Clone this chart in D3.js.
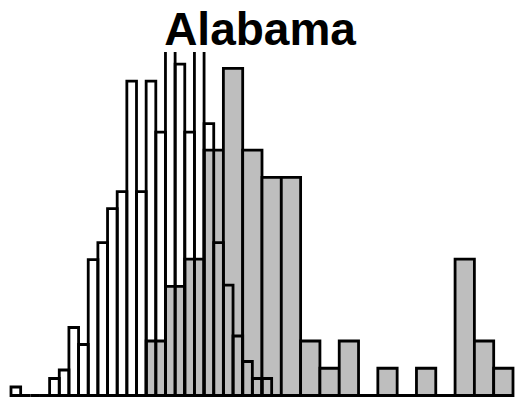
<!DOCTYPE html>
<html>
<head>
<meta charset="utf-8">
<script src="https://cdn.jsdelivr.net/npm/d3@7"></script>
<style>
  html, body { margin: 0; padding: 0; background: #fff; }
  svg { display: block; }
</style>
</head>
<body>
<script>
// Chart title
const title = "Alabama";

// Fine histogram: 27 bins of width 0.5 starting at 0
const fineStart = 0;
const fineWidth = 0.5;
const fineCounts = [1, 0, 0, 0, 2, 3, 8, 6, 16, 18, 22, 24, 37, 24, 37, 31, 43, 39, 31, 42, 32, 18, 13, 7, 4, 2, 2];

// Coarse histogram: 19 bins of width 1 starting at 7
const coarseStart = 7;
const coarseWidth = 1;
const coarseCounts = [2, 4, 5, 9, 12, 9, 8, 8, 2, 1, 2, 0, 1, 0, 1, 0, 5, 2, 1];

// Plot limits
const xLimits = [0, 26];
const yLimits = [0, 0.175];

const W = 516, H = 399;

// Turn counts into density bins so both histograms share one y scale
function toBins(counts, start, width) {
  const n = d3.sum(counts);
  return counts.map((c, i) => ({
    x0: start + i * width,
    x1: start + (i + 1) * width,
    density: c / (n * width)
  }));
}

const fineBins = toBins(fineCounts, fineStart, fineWidth);
const coarseBins = toBins(coarseCounts, coarseStart, coarseWidth);

const x = d3.scaleLinear().domain(xLimits).range([11, 513]);
const y = d3.scaleLinear().domain(yLimits).range([395.5, 52]);

const svg = d3.select("body").append("svg")
  .attr("width", W)
  .attr("height", H);

svg.append("defs").append("clipPath")
  .attr("id", "plot-clip")
  .append("rect")
  .attr("x", 0).attr("y", y(yLimits[1]))
  .attr("width", W).attr("height", H - y(yLimits[1]));

// Bars drawn as closed paths so that empty bins still show their outline
const barPath = d => {
  const x0 = x(d.x0), x1 = x(d.x1), y0 = y(0), y1 = y(d.density);
  return `M${x0},${y0}V${y1}H${x1}V${y0}Z`;
};

const plot = svg.append("g").attr("clip-path", "url(#plot-clip)");

plot.append("g")
  .selectAll("path")
  .data(coarseBins)
  .join("path")
  .attr("d", barPath)
  .attr("fill", "#bebebe")
  .attr("stroke", "#000")
  .attr("stroke-width", 2.8)
  .attr("stroke-linejoin", "miter");

plot.append("g")
  .selectAll("path")
  .data(fineBins)
  .join("path")
  .attr("d", barPath)
  .attr("fill", "none")
  .attr("stroke", "#000")
  .attr("stroke-width", 2.8)
  .attr("stroke-linejoin", "miter");

svg.append("text")
  .attr("x", 260)
  .attr("y", 45)
  .attr("text-anchor", "middle")
  .attr("font-family", "'Liberation Sans', Arial, Helvetica, sans-serif")
  .attr("font-weight", "bold")
  .attr("font-size", 46)
  .attr("fill", "#000")
  .text(title);
</script>
</body>
</html>
